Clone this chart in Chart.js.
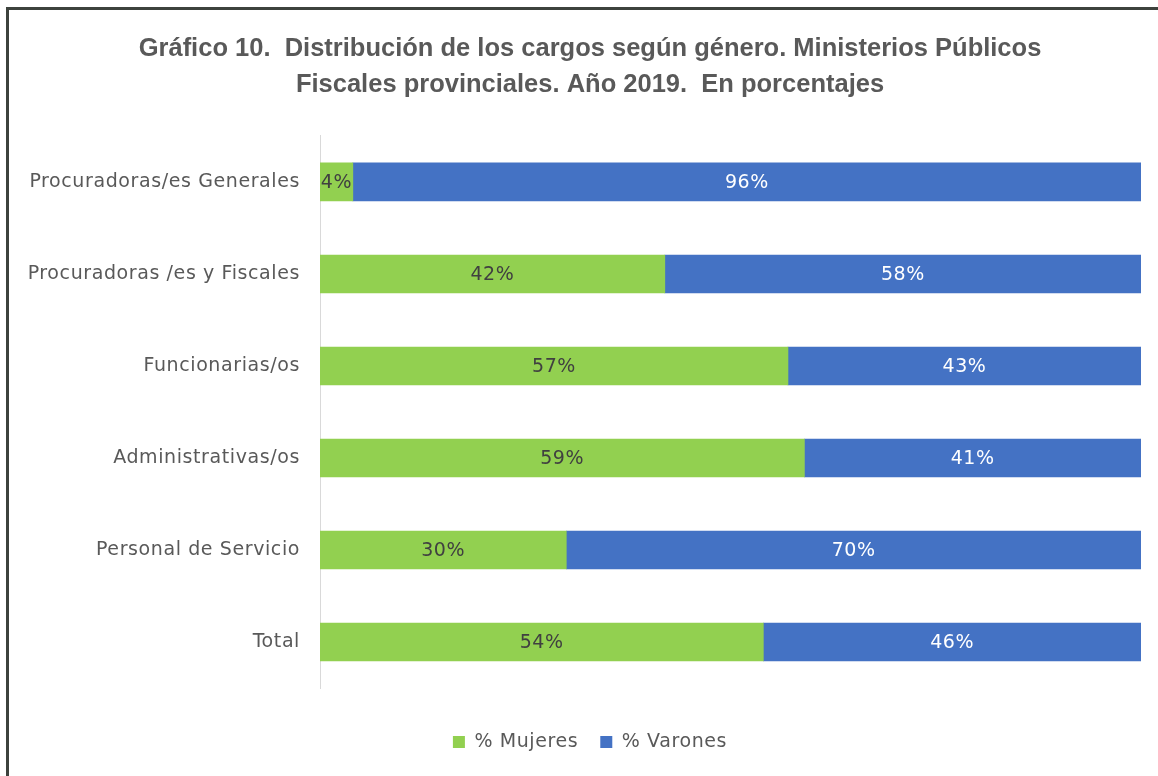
<!DOCTYPE html>
<html>
<head>
<meta charset="utf-8">
<script src="https://cdn.jsdelivr.net/npm/chart.js@4.4.1/dist/chart.umd.min.js"></script>
<style>
  html, body { margin: 0; padding: 0; background: #fff; overflow: hidden; }
  #frame { position: absolute; left: 6px; top: 7px; width: 1170px; height: 780px;
           border-left: 3px solid #3d423d; border-top: 3px solid #3d423d; }
  #wrap { position: absolute; left: 9px; top: 10px; width: 1162px; height: 766px; }
</style>
</head>
<body>
<div id="frame"></div>
<div id="wrap"><canvas id="c"></canvas></div>
<script>
const categories = ["Procuradoras/es Generales", "Procuradoras /es y Fiscales", "Funcionarias/os", "Administrativas/os", "Personal de Servicio", "Total"];
const mujeres = [4, 42, 57, 59, 30, 54];
const varones = [96, 58, 43, 41, 70, 46];
const seriesNames = ["% Mujeres", "% Varones"];
const titleLines = ["Gráfico 10.  Distribución de los cargos según género. Ministerios Públicos", "Fiscales provinciales. Año 2019.  En porcentajes"];

const FONT = "'DejaVu Sans', sans-serif";
const TITLE_FONT = "'Liberation Sans', sans-serif";
const SPACING = '0.6px';

const spacingPlugin = {
  id: 'spacing',
  beforeLayout(chart) { chart.ctx.letterSpacing = SPACING; },
  afterLayout(chart) {
    // let the long category labels use the space left of the padded box
    const y = chart.scales.y;
    if (y) { y.left = 0; }
  },
  beforeDraw(chart) {
    chart.ctx.letterSpacing = SPACING;
    const tb = chart.titleBlock;
    if (tb && !tb._patched) {
      const orig = tb.draw;
      tb.draw = function () {
        const c = this.ctx; const prev = c.letterSpacing;
        c.letterSpacing = '0px';
        orig.apply(this, arguments);
        c.letterSpacing = prev;
      };
      tb._patched = true;
    }
  }
};

const labelPlugin = {
  id: 'segLabels',
  afterDatasetsDraw(chart) {
    const ctx = chart.ctx;
    ctx.save();
    ctx.letterSpacing = SPACING;
    ctx.font = "19px " + FONT;
    ctx.textAlign = 'center';
    ctx.textBaseline = 'middle';
    chart.data.datasets.forEach((ds, di) => {
      const meta = chart.getDatasetMeta(di);
      ctx.fillStyle = di === 0 ? '#404040' : '#ffffff';
      meta.data.forEach((el, i) => {
        const cx = (el.x + el.base) / 2;
        ctx.fillText(ds.data[i] + '%', cx, el.y + 1);
      });
    });
    ctx.restore();
  }
};

new Chart(document.getElementById('c'), {
  type: 'bar',
  data: {
    labels: categories,
    datasets: [
      { label: seriesNames[0], data: mujeres, backgroundColor: '#92D050', barThickness: 38 },
      { label: seriesNames[1], data: varones, backgroundColor: '#4472C4', barThickness: 38 }
    ]
  },
  options: {
    indexAxis: 'y',
    responsive: true,
    maintainAspectRatio: false,
    animation: false,
    layout: { padding: { left: 30, right: 30, top: 0, bottom: 14.5 } },
    scales: {
      x: {
        stacked: true, min: 0, max: 100,
        grid: { display: false }, border: { display: false },
        ticks: { display: false },
        afterFit(scale) { scale.height = 22.5; }
      },
      y: {
        stacked: true,
        grid: { display: false, drawTicks: false },
        border: { display: true, color: '#d9d9d9', width: 1 },
        ticks: { color: '#595959', font: { family: FONT, size: 19 }, padding: 20 },
        afterFit(scale) { scale.width = 281; }
      }
    },
    plugins: {
      title: {
        display: true,
        text: titleLines,
        color: '#595959',
        font: { family: TITLE_FONT, size: 25.5, weight: 'bold', lineHeight: 1.45 },
        padding: { top: 20, bottom: 32 }
      },
      legend: {
        position: 'bottom',
        labels: { color: '#595959', font: { family: FONT, size: 19 }, boxWidth: 12, boxHeight: 12, padding: 22 }
      },
      tooltip: { enabled: false }
    }
  },
  plugins: [spacingPlugin, labelPlugin]
});
</script>
</body>
</html>
